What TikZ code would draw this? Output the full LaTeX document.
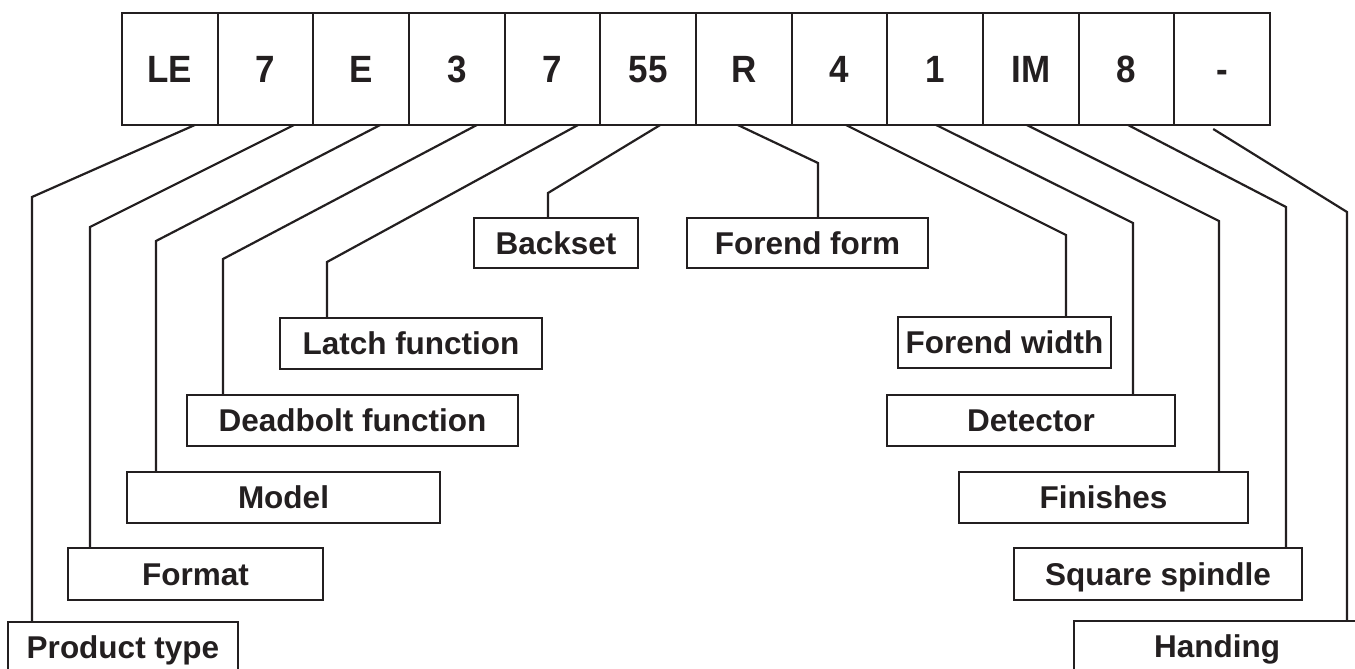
\documentclass[tikz,border=0pt]{standalone}
\usepackage{fontspec}
\setmainfont{Liberation Sans}
\usetikzlibrary{calc}
\definecolor{ink}{HTML}{231F20}
\begin{document}
\begin{tikzpicture}[x=1pt,y=-1pt,
  cell/.style={draw=ink, line width=2.2pt, minimum width=95.67pt, minimum height=112pt, inner sep=0pt, outer sep=0pt,
    text=ink, text height=27.3pt, text depth=0pt, font=\fontsize{38}{40}\selectfont\bfseries},
  lbl/.style={draw=ink, line width=2.2pt, inner sep=0pt, outer sep=0pt, minimum height=51pt,
    text=ink, text height=22.5pt, text depth=0pt, font=\fontsize{31.5}{33}\selectfont\bfseries},
  conn/.style={draw=ink, line width=2.2pt, line join=miter}]
\useasboundingbox (0,0) rectangle (1355,669);
\fill[white] (0,0) rectangle (1355,669);
\begin{scope}
\clip (0,0) rectangle (1355,669);
% code cells
\foreach \t [count=\i] in {LE,7,E,3,7,55,R,4,1,IM,8,-}
  \node[cell] (c\i) at ({122+95.67*(\i-0.5)},69) {\scalebox{0.92}[1]{\t}};
% label boxes
\node[lbl, minimum width=230pt] (pt)  at (123,647.5)  {Product type};
\node[lbl, minimum width=255pt, minimum height=52pt] (fmt) at (195.5,574) {Format};
\node[lbl, minimum width=313pt] (mdl) at (283.5,497.5) {Model};
\node[lbl, minimum width=331pt] (dbf) at (352.5,420.5) {Deadbolt function};
\node[lbl, minimum width=262pt] (lat) at (411,343.5)   {Latch function};
\node[lbl, minimum width=164pt, minimum height=50pt] (bks) at (556,243) {Backset};
\node[lbl, minimum width=241pt, minimum height=50pt] (ffm) at (807.5,243) {Forend form};
\node[lbl, minimum width=213pt] (fwd) at (1004.5,342.5) {Forend width};
\node[lbl, minimum width=288pt] (det) at (1031,420.5)  {Detector};
\node[lbl, minimum width=289pt] (fin) at (1103.5,497.5) {Finishes};
\node[lbl, minimum width=288pt, minimum height=52pt] (sqs) at (1158,574) {Square spindle};
\node[lbl, minimum width=286pt] (hnd) at (1217,646.5) {Handing};
% bend points
\coordinate (b1)  at (32,197);
\coordinate (b2)  at (90,227);
\coordinate (b3)  at (156,241);
\coordinate (b4)  at (223,259);
\coordinate (b5)  at (327,262);
\coordinate (b6)  at (548,193);
\coordinate (b7)  at (818,163);
\coordinate (b8)  at (1066,235);
\coordinate (b9)  at (1133,223);
\coordinate (b10) at (1219,221);
\coordinate (b11) at (1286,207);
\coordinate (b12) at (1347,212);
% connectors
\draw[conn] ($(c1.south)+(25,0)$)   -- (b1)  -- (b1 |- pt.north);
\draw[conn] ($(c2.south)+(28.5,0)$) -- (b2)  -- (b2 |- fmt.north);
\draw[conn] ($(c3.south)+(19,0)$)   -- (b3)  -- (b3 |- mdl.north);
\draw[conn] ($(c4.south)+(20,0)$)   -- (b4)  -- (b4 |- dbf.north);
\draw[conn] ($(c5.south)+(25.5,0)$) -- (b5)  -- (b5 |- lat.north);
\draw[conn] ($(c6.south)+(12,0)$)   -- (b6)  -- (b6 |- bks.north);
\draw[conn] ($(c7.south)+(-6,0)$)   -- (b7)  -- (b7 |- ffm.north);
\draw[conn] ($(c8.south)+(6.5,0)$)  -- (b8)  -- (b8 |- fwd.north);
\draw[conn] ($(c9.south)+(1,0)$)    -- (b9)  -- (b9 |- det.north);
\draw[conn] ($(c10.south)+(-4,0)$)  -- (b10) -- (b10 |- fin.north);
\draw[conn] ($(c11.south)+(1.5,0)$) -- (b11) -- (b11 |- sqs.north);
\draw[conn] ($(c12.south)+(-9,4)$)  -- (b12) -- (b12 |- hnd.north);
\end{scope}
\end{tikzpicture}
\end{document}
